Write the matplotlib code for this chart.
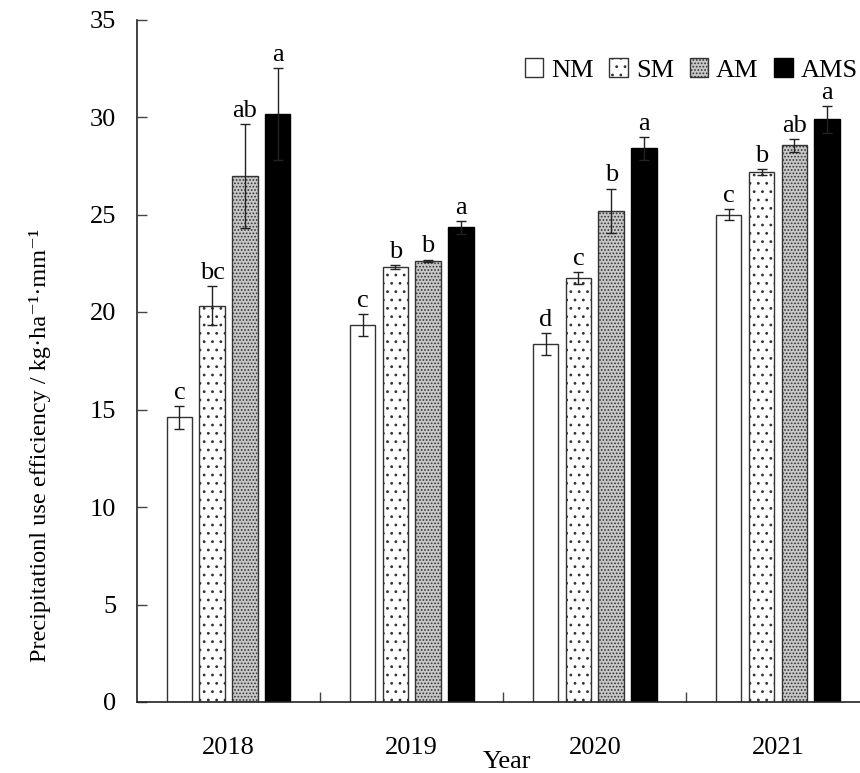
import numpy as np
import matplotlib
matplotlib.use("Agg")
import matplotlib.pyplot as plt
from matplotlib.ticker import FixedLocator, NullFormatter

plt.rcParams['font.family'] = ['Liberation Serif', 'DejaVu Serif']
plt.rcParams['hatch.linewidth'] = 0.8

years = ['2018', '2019', '2020', '2021']
treatments = ['NM', 'SM', 'AM', 'AMS']

# mean precipitation use efficiency per treatment, one value per year
pue = {
    'NM':  [14.6, 19.33, 18.36, 24.99],
    'SM':  [20.33, 22.29, 21.73, 27.20],
    'AM':  [26.97, 22.63, 25.20, 28.54],
    'AMS': [30.15, 24.34, 28.39, 29.88],
}
# standard errors
pue_err = {
    'NM':  [0.60, 0.58, 0.55, 0.27],
    'SM':  [1.00, 0.10, 0.31, 0.15],
    'AM':  [2.65, 0.06, 1.13, 0.32],
    'AMS': [2.35, 0.34, 0.57, 0.70],
}
# significance letters
letters = {
    'NM':  ['c', 'c', 'd', 'c'],
    'SM':  ['bc', 'b', 'c', 'b'],
    'AM':  ['ab', 'b', 'b', 'ab'],
    'AMS': ['a', 'a', 'a', 'a'],
}

styles = {
    'NM':  dict(facecolor='white', edgecolor='#333333', hatch=None),
    'SM':  dict(facecolor='white', edgecolor='#333333', hatch='..'),
    'AM':  dict(facecolor='#c8c8c8', edgecolor='#333333', hatch='.....'),
    'AMS': dict(facecolor='black', edgecolor='black', hatch=None),
}

W, H = 860, 773
fig = plt.figure(figsize=(W / 100, H / 100), dpi=100)
left, right, bottom, top = 137, 869.5, 702, 19.5
ax = fig.add_axes([left / W, (H - bottom) / H, (right - left) / W, (bottom - top) / H])

x = np.arange(len(years))
bw = 0.139
pitch = 0.179
fs = 19

for i, t in enumerate(treatments):
    pos = x + (i - 1.5) * pitch
    st = styles[t]
    ax.bar(pos, pue[t], width=bw, facecolor=st['facecolor'],
           edgecolor=st['edgecolor'], hatch=st['hatch'], linewidth=1.0,
           label=t, zorder=2)
    ax.errorbar(pos, pue[t], yerr=pue_err[t], fmt='none', ecolor='#222222',
                elinewidth=1.0, capsize=3.5, capthick=1.0, zorder=3)
    for xp, v, e, lab in zip(pos, pue[t], pue_err[t], letters[t]):
        ax.annotate(lab, (xp, v + e), xytext=(0, 1.5), textcoords='offset points',
                    ha='center', va='bottom', fontsize=fs)

ax.set_xlim(-0.5, 3.5)
ax.set_ylim(0, 35)
ax.set_yticks(np.arange(0, 36, 5))
ax.set_xticks(x)
ax.set_xticklabels(years)
ax.xaxis.set_minor_locator(FixedLocator([0.5, 1.5, 2.5]))
ax.xaxis.set_minor_formatter(NullFormatter())
ax.tick_params(axis='x', which='major', length=0, pad=25, labelsize=fs)
ax.tick_params(axis='x', which='minor', direction='in', length=7.5, width=1.0, color='#444444')
ax.tick_params(axis='y', direction='in', length=7.5, width=1.0, color='#444444',
               pad=15, labelsize=fs)

for s in ('top', 'right'):
    ax.spines[s].set_visible(False)
for s in ('left', 'bottom'):
    ax.spines[s].set_linewidth(1.2)
    ax.spines[s].set_color('#222222')

fig.text(40 / W, 1 - 445 / H, 'Precipitationl use efficiency / kg·ha⁻¹·mm⁻¹',
         rotation=90, ha='center', va='center', fontsize=17.5)
fig.text(507 / W, 1 - 762 / H, 'Year', ha='center', va='center', fontsize=fs)

ax.legend(loc='center right', bbox_to_anchor=(858 / W, 1 - 70 / H),
          bbox_transform=fig.transFigure,
          ncol=4, frameon=False, fontsize=fs, handlelength=0.7,
          handleheight=0.7, handletextpad=0.3, columnspacing=0.6,
          borderaxespad=0.0, borderpad=0.0)

fig.savefig('out.png', dpi=100)
